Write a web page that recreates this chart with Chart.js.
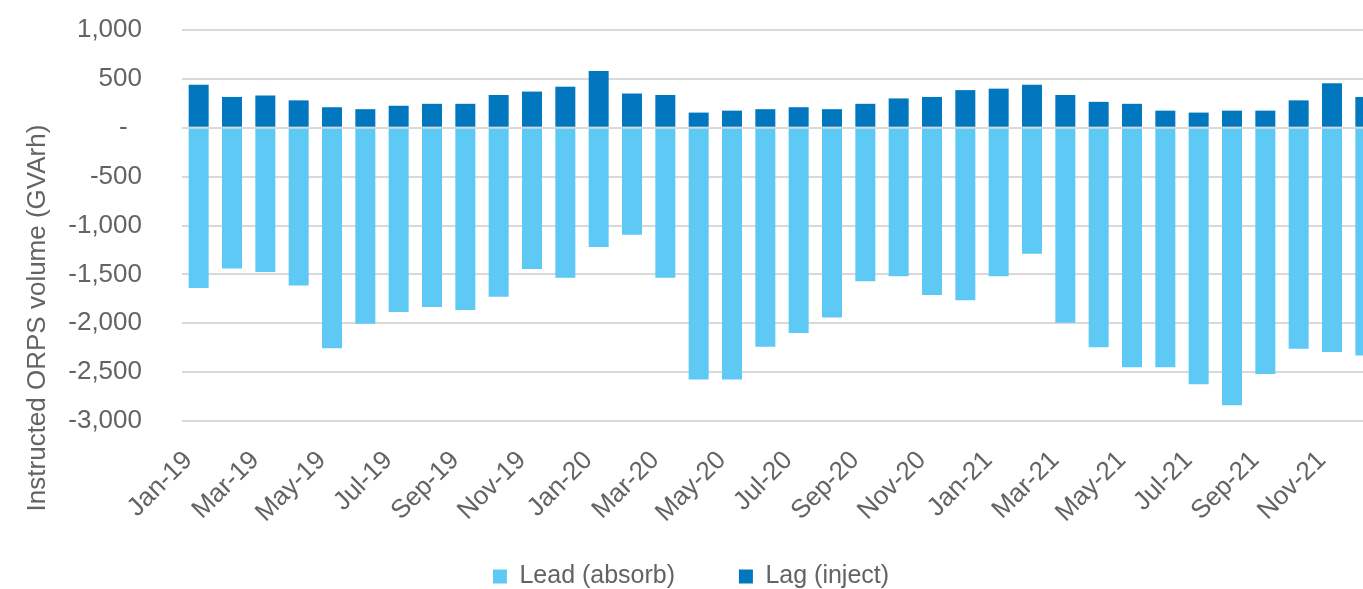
<!DOCTYPE html>
<html>
<head>
<meta charset="utf-8">
<title>Instructed ORPS volume</title>
<script src="https://cdn.jsdelivr.net/npm/chart.js@4/dist/chart.umd.min.js"></script>
<style>
    html, body {
        margin: 0;
        padding: 0;
        width: 1363px;
        height: 589px;
        overflow: hidden;
        background: #fff;
    }
    #wrap {
        position: relative;
        width: 1410px;
        height: 600px;
    }
</style>
</head>
<body>
<div id="wrap"><canvas id="chartOrps"></canvas></div>
<script>
const MESES = [
    "Jan-19", "Feb-19", "Mar-19", "Apr-19", "May-19", "Jun-19",
    "Jul-19", "Aug-19", "Sep-19", "Oct-19", "Nov-19", "Dec-19",
    "Jan-20", "Feb-20", "Mar-20", "Apr-20", "May-20", "Jun-20",
    "Jul-20", "Aug-20", "Sep-20", "Oct-20", "Nov-20", "Dec-20",
    "Jan-21", "Feb-21", "Mar-21", "Apr-21", "May-21", "Jun-21",
    "Jul-21", "Aug-21", "Sep-21", "Oct-21", "Nov-21", "Dec-21"
];

// absorb (lead) is reported as negative volume
const LEAD_ABSORB = [
    -1640, -1440, -1475, -1615, -2255, -2005,
    -1885, -1835, -1865, -1730, -1445, -1535,
    -1220, -1095, -1535, -2575, -2575, -2240,
    -2100, -1940, -1570, -1520, -1710, -1765,
    -1520, -1290, -1995, -2245, -2450, -2450,
    -2625, -2840, -2520, -2260, -2295, -2330
];

const LAG_INJECT = [
    440, 315, 330, 280, 210, 190,
    225, 245, 245, 335, 370, 420,
    580, 350, 335, 155, 175, 190,
    210, 190, 245, 300, 315, 385,
    400, 440, 335, 265, 245, 175,
    155, 175, 175, 280, 455, 315
];

const Y_TICKS = [1000, 500, 0, -500, -1000, -1500, -2000, -2500, -3000];
const TITULO_Y = "Instructed ORPS volume (GVArh)";

const FONTE = "'Liberation Sans', Arial, Helvetica, sans-serif";
const CINZA = "#636363";

// y title sits lower than the plot centre, so it is drawn by hand
const tituloEixoY = {
    id: "tituloEixoY",
    afterDraw(chart) {
        const ctx = chart.ctx;
        ctx.save();
        ctx.translate(38, 318);
        ctx.rotate(-Math.PI / 2);
        ctx.font = `26px ${FONTE}`;
        ctx.fillStyle = CINZA;
        ctx.textAlign = "center";
        ctx.textBaseline = "middle";
        ctx.fillText(TITULO_Y, 0, 0);
        ctx.restore();
    }
};

document.addEventListener("DOMContentLoaded", () => {
    const ctx = document.getElementById("chartOrps");

    new Chart(ctx, {
        type: "bar",
        data: {
            labels: MESES,
            datasets: [
                {
                    label: "Lead (absorb)",
                    data: LEAD_ABSORB,
                    backgroundColor: "#5DC9F4",
                    barPercentage: 0.6,
                    categoryPercentage: 1
                },
                {
                    label: "Lag (inject)",
                    data: LAG_INJECT,
                    backgroundColor: "#0077BF",
                    barPercentage: 0.6,
                    categoryPercentage: 1
                }
            ]
        },
        options: {
            responsive: true,
            maintainAspectRatio: false,
            animation: false,
            layout: {
                padding: { top: 30, right: 28, bottom: 1, left: 0 }
            },
            plugins: {
                legend: {
                    position: "bottom",
                    labels: {
                        boxWidth: 14,
                        boxHeight: 14,
                        padding: 43,
                        color: CINZA,
                        font: { family: FONTE, size: 25 },
                        // wider gap between the two entries than padding alone gives
                        generateLabels: chart => {
                            const itens = Chart.defaults.plugins.legend.labels.generateLabels(chart);
                            itens[0].text += "\u00A0\u00A0\u00A0";
                            return itens;
                        }
                    }
                },
                tooltip: { enabled: false }
            },
            scales: {
                x: {
                    stacked: true,
                    grid: { display: false },
                    border: { display: false },
                    ticks: {
                        autoSkip: false,
                        minRotation: 45,
                        maxRotation: 45,
                        padding: 6,
                        color: CINZA,
                        font: { family: FONTE, size: 26 },
                        // every second month, with a small gap before the tick
                        callback: (val, i) => (i % 2 === 0 ? MESES[i] + "\u00A0\u00A0" : "")
                    },
                    afterFit: scale => {
                        scale.height = 100;
                    }
                },
                y: {
                    stacked: true,
                    min: -3000,
                    max: 1000,
                    afterBuildTicks: scale => {
                        scale.ticks = Y_TICKS.map(v => ({ value: v }));
                    },
                    grid: {
                        color: "#D9D9D9",
                        lineWidth: 2,
                        drawTicks: true,
                        tickLength: 38,
                        tickColor: "rgba(0,0,0,0)"
                    },
                    border: { display: false },
                    ticks: {
                        padding: 2,
                        color: CINZA,
                        font: { family: FONTE, size: 26 },
                        callback: v => (v === 0 ? "-  " : v.toLocaleString("en-US"))
                    },
                    afterFit: scale => {
                        scale.width = 182;
                    }
                }
            }
        },
        plugins: [tituloEixoY]
    });
});
</script>
</body>
</html>
